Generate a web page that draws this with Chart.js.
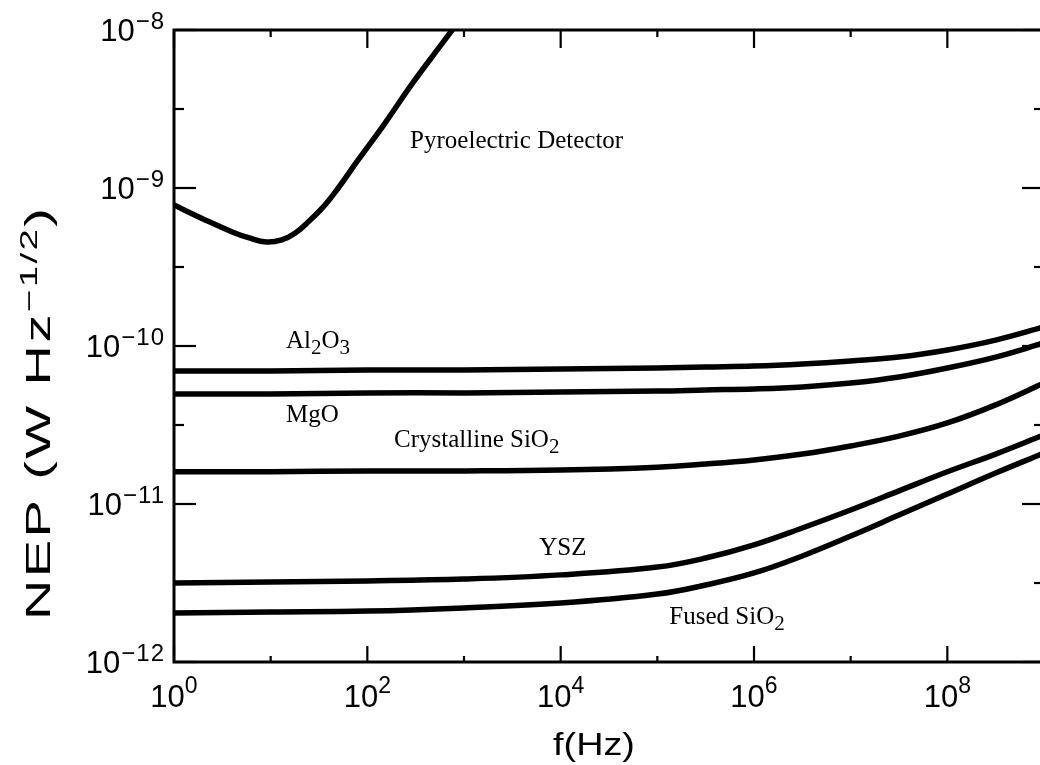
<!DOCTYPE html>
<html>
<head>
<meta charset="utf-8">
<script src="https://cdn.jsdelivr.net/npm/chart.js@4.4.1/dist/chart.umd.min.js"></script>
<style>
  html, body { margin: 0; padding: 0; background: #fff; overflow: hidden; }
  #wrap { width: 1046px; height: 765px; }
</style>
</head>
<body>
<div id="wrap"><canvas id="nep" width="1046" height="765"></canvas></div>
<script>
// Frequency grid (Hz) shared by the substrate curves
const freqHz = [1, 10, 100, 1e3, 1e4, 1e5, 3.16e5, 1e6, 3.16e6, 1e7, 3.16e7, 1e8, 3.16e8, 1e9];

// NEP (W Hz^-1/2) of a thin-film bolometer on each substrate
const nepAl2O3 = [6.95e-11, 6.95e-11, 7.05e-11, 7.05e-11, 7.15e-11, 7.26e-11, 7.36e-11, 7.46e-11, 7.69e-11, 8.04e-11, 8.51e-11, 9.44e-11, 1.09e-10, 1.32e-10];
const nepMgO   = [4.97e-11, 4.97e-11, 5.05e-11, 5.05e-11, 5.12e-11, 5.19e-11, 5.27e-11, 5.35e-11, 5.51e-11, 5.83e-11, 6.37e-11, 7.26e-11, 8.51e-11, 1.045e-10];
const nepCrystSiO2 = [1.60e-11, 1.60e-11, 1.62e-11, 1.62e-11, 1.64e-11, 1.71e-11, 1.79e-11, 1.90e-11, 2.07e-11, 2.33e-11, 2.69e-11, 3.26e-11, 4.24e-11, 5.83e-11];
const nepYSZ   = [3.16e-12, 3.21e-12, 3.26e-12, 3.35e-12, 3.56e-12, 3.99e-12, 4.55e-12, 5.51e-12, 7.05e-12, 9.16e-12, 1.21e-11, 1.60e-11, 2.07e-11, 2.74e-11];
const nepFusedSiO2 = [2.04e-12, 2.07e-12, 2.10e-12, 2.20e-12, 2.36e-12, 2.69e-12, 3.07e-12, 3.66e-12, 4.69e-12, 6.27e-12, 8.51e-12, 1.156e-11, 1.57e-11, 2.10e-11];

// Pyroelectric detector, on its own frequency grid
const pyroFreqHz = [1, 2, 4, 6, 9, 13, 18, 25, 35, 50, 80, 150, 300, 600, 1000];
const nepPyro = [7.80e-10, 6.37e-10, 5.27e-10, 4.83e-10, 4.55e-10, 4.69e-10, 5.19e-10, 6.18e-10, 7.59e-10, 1.0e-9, 1.50e-9, 2.54e-9, 4.69e-9, 8.28e-9, 1.26e-8];

// Axis ticks (powers of ten)
const xTickExp = [0, 1, 2, 3, 4, 5, 6, 7, 8, 9];
const xLabelExp = [0, 2, 4, 6, 8];
const yTickExp = [-12, -11.5, -11, -10.5, -10, -9.5, -9, -8.5, -8];
const yLabelExp = [-8, -9, -10, -11, -12];

// Curve labels: text pieces ([text, isSubscript]) anchored at (f, NEP)
const curveLabels = [
  { parts: [['Pyroelectric Detector', 0]], f: 277, nep: 1.79e-9 },
  { parts: [['Al', 0], ['2', 1], ['O', 0], ['3', 1]], f: 14.4, nep: 9.7e-11 },
  { parts: [['MgO', 0]], f: 14.4, nep: 3.3e-11 },
  { parts: [['Crystalline SiO', 0], ['2', 1]], f: 189, nep: 2.3e-11 },
  { parts: [['YSZ', 0]], f: 6000, nep: 4.75e-12 },
  { parts: [['Fused SiO', 0], ['2', 1]], f: 1.33e5, nep: 1.74e-12 }
];

const SANS = '"Liberation Sans", Arial, Helvetica, sans-serif';
const SERIF = '"Liberation Serif", "Times New Roman", serif';
const MINUS = '\u2212';

function pts(xs, ys) { return xs.map((x, i) => ({ x: x, y: ys[i] })); }

function curve(xs, ys) {
  return {
    data: pts(xs, ys),
    borderColor: '#000',
    borderWidth: 5.5,
    pointRadius: 0,
    tension: 0.4,
    fill: false,
    clip: 0
  };
}

function seg(ctx, x1, y1, x2, y2) {
  ctx.beginPath(); ctx.moveTo(x1, y1); ctx.lineTo(x2, y2); ctx.stroke();
}

// Frame, inward ticks, power-of-ten labels, axis titles and curve labels
const decorations = {
  id: 'decorations',
  afterDatasetsDraw(chart) {
    const ctx = chart.ctx;
    const a = chart.chartArea;
    const xs = chart.scales.x, ys = chart.scales.y;
    ctx.save();
    ctx.strokeStyle = '#000';
    ctx.fillStyle = '#000';
    ctx.lineCap = 'butt';

    // frame
    ctx.lineWidth = 3;
    ctx.strokeRect(a.left, a.top, a.right - a.left, a.bottom - a.top);

    // ticks
    ctx.lineWidth = 2.2;
    xTickExp.forEach(e => {
      const px = xs.getPixelForValue(Math.pow(10, e));
      const major = e % 2 === 0;
      seg(ctx, px, a.bottom, px, a.bottom - (major ? 16 : 6));
      seg(ctx, px, a.top, px, a.top + (major ? 18 : 7));
    });
    yTickExp.forEach(e => {
      const py = ys.getPixelForValue(Math.pow(10, e));
      const major = Number.isInteger(e);
      const len = major ? 22 : 10;
      seg(ctx, a.left, py, a.left + len, py);
      seg(ctx, a.right, py, a.right - len, py);
    });

    // x tick labels: 10^n
    ctx.textBaseline = 'alphabetic';
    xLabelExp.forEach(e => {
      const px = xs.getPixelForValue(Math.pow(10, e));
      ctx.font = '31px ' + SANS;
      const wBase = ctx.measureText('10').width;
      ctx.font = '23px ' + SANS;
      const sup = String(e);
      const wSup = ctx.measureText(sup).width;
      const left = px - (wBase + wSup) / 2;
      ctx.textAlign = 'left';
      ctx.font = '31px ' + SANS;
      ctx.fillText('10', left, a.bottom + 45);
      ctx.font = '23px ' + SANS;
      ctx.fillText(sup, left + wBase, a.bottom + 31);
    });

    // y tick labels: 10^-n
    yLabelExp.forEach(e => {
      const py = ys.getPixelForValue(Math.pow(10, e));
      const sup = MINUS + String(Math.abs(e));
      const right = a.left - 9;
      ctx.textAlign = 'right';
      ctx.font = '24px ' + SANS;
      ctx.letterSpacing = '1px';
      const wSup = ctx.measureText(sup).width;
      ctx.fillText(sup, right, py - 1);
      ctx.letterSpacing = '0px';
      ctx.font = '31px ' + SANS;
      ctx.fillText('10', right - wSup - 1, py + 11);
    });

    // x axis title
    ctx.save();
    ctx.textAlign = 'center';
    ctx.font = '31px ' + SANS;
    ctx.translate(594, a.bottom + 93);
    ctx.scale(1.22, 1);
    ctx.fillText('f(Hz)', 0, 0);
    ctx.restore();

    // y axis title, reading upward, with a superscript exponent
    ctx.save();
    ctx.translate(50, 620);
    ctx.rotate(-Math.PI / 2);
    ctx.scale(1.6, 1);
    ctx.textAlign = 'left';
    ctx.letterSpacing = '1.5px';
    let u = 0;
    ctx.font = '35px ' + SANS;
    ctx.fillText('NEP (W Hz', u, 0);
    u += ctx.measureText('NEP (W Hz').width;
    ctx.font = '24px ' + SANS;
    const expTxt = MINUS + '1/2';
    ctx.fillText(expTxt, u, -13);
    u += ctx.measureText(expTxt).width;
    ctx.font = '35px ' + SANS;
    ctx.fillText(')', u, 0);
    ctx.restore();

    // curve labels
    ctx.textAlign = 'left';
    ctx.letterSpacing = '0px';
    curveLabels.forEach(lb => {
      let px = xs.getPixelForValue(lb.f);
      const py = ys.getPixelForValue(lb.nep);
      lb.parts.forEach(([t, sub]) => {
        ctx.font = (sub ? '21px ' : '25px ') + SERIF;
        ctx.fillText(t, px, py + (sub ? 6 : 0));
        px += ctx.measureText(t).width;
      });
    });

    ctx.restore();
  }
};

new Chart(document.getElementById('nep'), {
  type: 'line',
  data: {
    datasets: [
      curve(pyroFreqHz, nepPyro),
      curve(freqHz, nepAl2O3),
      curve(freqHz, nepMgO),
      curve(freqHz, nepCrystSiO2),
      curve(freqHz, nepYSZ),
      curve(freqHz, nepFusedSiO2)
    ]
  },
  options: {
    responsive: false,
    animation: false,
    devicePixelRatio: 1,
    layout: { padding: { left: 174, top: 30, right: 2, bottom: 103 } },
    plugins: { legend: { display: false }, tooltip: { enabled: false } },
    scales: {
      x: { type: 'logarithmic', min: 1, max: 1e9, display: false },
      y: { type: 'logarithmic', min: 1e-12, max: 1e-8, display: false }
    }
  },
  plugins: [decorations]
});
</script>
</body>
</html>
